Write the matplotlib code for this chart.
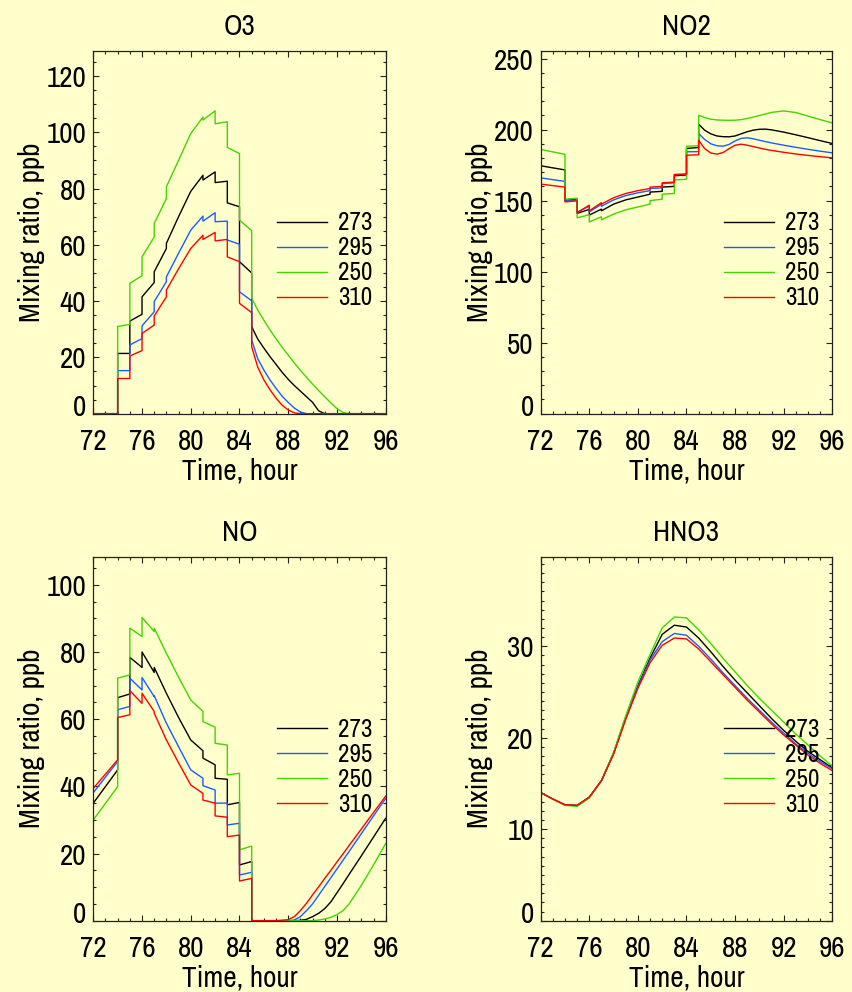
import matplotlib
matplotlib.use('agg')
import matplotlib.pyplot as plt
import matplotlib.transforms as mtransforms
from matplotlib.ticker import MultipleLocator

# legend labels and line colours (same order in every panel)
labels = ['273', '295', '250', '310']
colors = ['#000000', '#1a5cff', '#44d400', '#ff0000']

# ---- O3 ----
o3_time = [72, 74, 74, 75, 75, 76, 76, 77, 77, 78, 78, 79, 80, 81, 81, 82, 82, 83, 83, 84,
           84, 85, 85, 85.5, 86, 86.5, 87, 87.5, 88, 88.5, 89, 89.5, 90, 90.5, 91, 91.5, 92, 92.5, 93, 96]
o3_273 = [0, 0, 21.4, 21.4, 32.9, 35.3, 41.5, 46.6, 50.4, 58.7, 60.5, 70, 79, 84.7, 83, 85.9, 82.1, 82.6, 74.9, 73.5,
          54, 50, 30.9, 26.5, 23.3, 20.3, 17.5, 14.7, 12.2, 10, 8, 6, 4, 1, 0, 0, 0, 0, 0, 0]
o3_295 = [0, 0, 15.3, 15.3, 24.4, 26.7, 31.2, 36.2, 39.8, 46.9, 48.6, 57, 65.2, 70.2, 68.4, 71.4, 68.2, 68.4, 61.7, 60.2,
          43.3, 40.1, 26.2, 19.5, 15.5, 12, 9, 6.2, 4, 2, 0.6, 0, 0, 0, 0, 0, 0, 0, 0, 0]
o3_250 = [0, 0, 31, 31.7, 46.3, 49, 55.7, 62.8, 67.6, 76.4, 80.6, 90, 99.5, 105.4, 104.3, 107.6, 103, 103.7, 94.6, 92.4,
          68.8, 65, 41, 36.8, 33.2, 29.8, 26.6, 23.6, 20.8, 18, 15.4, 12.9, 10.5, 8.2, 6, 3.8, 1.8, 0.4, 0, 0]
o3_310 = [0, 0, 12.5, 12.5, 20.5, 22.4, 28.5, 31.5, 34.7, 41.5, 43.9, 51.5, 58.7, 63.4, 61.9, 64.4, 61.4, 61.9, 55.7, 54,
          39.2, 35.9, 23.8, 16.5, 12, 8.5, 5.5, 3, 1.3, 0.3, 0, 0, 0, 0, 0, 0, 0, 0, 0, 0]

# ---- NO2 ----
no2_time = [72, 74, 74, 75, 75, 76, 76, 77, 77, 78, 79, 80, 81, 81, 82, 82, 83, 83, 84, 84,
            85, 85, 85.5, 86, 86.5, 87, 87.5, 88, 88.5, 89, 89.5, 90, 90.5, 91, 92, 93, 94, 95, 96]
no2_273 = [174.5, 171.6, 150.2, 150.8, 141.0, 143.8, 139.8, 144.0, 142.8, 147.5, 150.5, 152.5, 154.5, 156.0, 156.5,
           159.5, 160, 167.5, 168, 186.7, 187.4, 203.8, 199.5, 197, 195.5, 195, 194.9, 195.5, 197, 198.5,
           199.6, 200.2, 200.3, 199.8, 198.2, 196.3, 194.3, 192.2, 190.2]
no2_295 = [166, 163.5, 149.8, 150.5, 141.9, 146.1, 142, 147.5, 146, 150.5, 153.5, 155.5, 157, 158.5, 159,
           162, 162.5, 168.2, 168.5, 184.3, 184.5, 197.2, 193, 190, 188.6, 188.3, 189.5, 192, 193.8, 194.2,
           193.5, 192.5, 191.5, 190.6, 189, 187.5, 186.1, 184.8, 183.6]
no2_250 = [186, 182.6, 151, 151.7, 137.9, 140, 135, 138.6, 136.5, 140.5, 143.5, 145.5, 147.5, 150, 151,
           154.5, 155, 164.5, 165, 188.3, 188.6, 210.1, 208.5, 207.3, 206.8, 206.6, 206.5, 206.6, 207, 207.8,
           208.8, 209.9, 211, 212.1, 213.1, 212, 209.5, 207, 204.7]
no2_310 = [161.6, 159.5, 149.1, 149.8, 141.4, 146.8, 142.8, 148.5, 147.5, 152, 155, 157, 158.5, 159.5, 160,
           162.5, 163, 168.4, 168.7, 182, 182.2, 192.5, 186.5, 183.5, 182.7, 183.8, 186.5, 189, 189.7, 189,
           188, 187, 186.1, 185.3, 184, 182.8, 181.8, 180.9, 180.1]

# ---- NO ----
no_time = [72, 74, 74, 75, 75, 76, 76, 77, 77, 78, 79, 80, 81, 81, 82, 82, 83, 83, 84, 84,
           85, 85, 86, 87, 88, 88.5, 89, 89.5, 90, 90.5, 91, 91.5, 92, 92.5, 93, 94, 95, 96]
no_273 = [35, 44.9, 66.4, 67.5, 78.4, 75.4, 80, 73.9, 75.4, 67.7, 60.5, 53.8, 50.6, 48.4, 46.4, 42.4, 42.1, 34.5, 35.2, 16.6,
          17.6, 0, 0, 0, 0, 0, 0.1, 0.4, 1.2, 2.2, 3.6, 5.6, 8.3, 11, 13.8, 19.3, 24.9, 30.5]
no_295 = [38.1, 47.4, 62.8, 63.8, 72.2, 68.7, 72.4, 66.7, 67, 58.8, 51.8, 44.9, 42.4, 40.2, 38.9, 35, 35, 28.5, 29, 13.6,
          14.4, 0, 0, 0, 0, 0.2, 1.2, 3, 5, 7.6, 10.2, 12.8, 15.4, 18, 20.6, 25.9, 31.2, 36.4]
no_250 = [30, 39.9, 72.2, 73.2, 87.1, 84.6, 90.3, 86.1, 87.1, 79.6, 72.5, 65.7, 62.3, 59.3, 57.6, 52.8, 52.3, 43.4, 43.9, 21.1,
          22.2, 0, 0, 0, 0, 0, 0, 0, 0, 0.2, 0.5, 1.0, 1.8, 3, 5, 10.5, 16.6, 23]
no_310 = [39.4, 47.9, 60.5, 61.3, 68.5, 64.7, 67.7, 62.3, 61.8, 53.8, 47, 40.4, 37.9, 35.9, 35, 31.2, 30.8, 25, 25.5, 11.8,
          12.6, 0, 0, 0, 0.3, 1.2, 3, 5.2, 7.7, 10.1, 12.6, 15, 17.5, 19.9, 22.4, 27.3, 32.2, 37.1]

# ---- HNO3 (hourly) ----
hno3_time = list(range(72, 97))
hno3_273 = [14.0, 13.3, 12.66, 12.6, 13.5, 15.3, 18.3, 22.2, 25.7, 28.7, 31.3, 32.3, 32.1, 30.9, 29.4, 27.8,
            26.3, 24.9, 23.5, 22.1, 20.8, 19.6, 18.5, 17.6, 16.7]
hno3_295 = [14.0, 13.3, 12.66, 12.6, 13.5, 15.3, 18.3, 22.2, 25.6, 28.5, 30.5, 31.4, 31.2, 30.0, 28.6, 27.1,
            25.7, 24.3, 23.0, 21.7, 20.5, 19.3, 18.3, 17.4, 16.6]
hno3_250 = [14.0, 13.3, 12.6, 12.5, 13.4, 15.3, 18.4, 22.4, 26.1, 29.1, 32.0, 33.2, 33.1, 31.8, 30.3, 28.7,
            27.2, 25.7, 24.3, 23.0, 21.7, 20.4, 19.2, 18.0, 16.9]
hno3_310 = [14.0, 13.3, 12.66, 12.6, 13.5, 15.3, 18.2, 22.0, 25.4, 28.2, 30.1, 30.9, 30.8, 29.7, 28.3, 26.9,
            25.5, 24.1, 22.8, 21.5, 20.3, 19.2, 18.1, 17.2, 16.4]

bg = '#ffffcc'
# narrow sans like the original; falls back to Liberation Sans if missing
plt.rcParams['font.family'] = ['Archivo Narrow', 'Liberation Sans Narrow', 'Liberation Sans', 'DejaVu Sans']

fig = plt.figure(figsize=(8.52, 9.92), dpi=100, facecolor=bg)


def make_panel(rect, title, time, series, ymax, major, minor):
    ax = fig.add_axes(rect, facecolor=bg)
    for vals, lab, col in zip(series, labels, colors):
        ax.plot(time, vals, color=col, lw=1.0, label=lab)
    ax.set_xlim(72, 96)
    ax.set_ylim(0, ymax)
    ax.set_xticks(range(72, 97, 4))
    ax.set_yticks(range(0, int(ymax) + 1, major))
    ax.xaxis.set_minor_locator(MultipleLocator(1))
    ax.yaxis.set_minor_locator(MultipleLocator(minor))
    ax.tick_params(which='both', direction='in', top=True, right=True, width=0.8, color='#222222')
    ax.tick_params(which='major', length=4.5, labelsize=21)
    ax.tick_params(which='minor', length=2.4)
    ax.tick_params(axis='x', pad=10)
    ax.tick_params(axis='y', pad=5)
    for sp in ax.spines.values():
        sp.set_color('#222222')
        sp.set_linewidth(0.9)
    ax.set_title(title, fontsize=21, pad=11)
    ax.set_xlabel('Time, hour', fontsize=21, labelpad=2)
    ax.set_ylabel('Mixing ratio, ppb', fontsize=21)
    ax.yaxis.set_label_coords(-0.165, 0.5)
    # the bottom "0" label sits a little above the axis, like the original
    offset = mtransforms.ScaledTranslation(0, 0.09, fig.dpi_scale_trans)
    zero = ax.yaxis.get_major_ticks()[0].label1
    zero.set_transform(zero.get_transform() + offset)
    ax.legend(loc='upper left', bbox_to_anchor=(0.627, 0.557), frameon=False, fontsize=18,
              handlelength=2.0, handletextpad=0.45, labelspacing=0.08, borderpad=0, borderaxespad=0)
    return ax


make_panel([0.1095, 0.583, 0.3432, 0.366], 'O3', o3_time, [o3_273, o3_295, o3_250, o3_310], 129, 20, 5)
make_panel([0.6346, 0.583, 0.3423, 0.366], 'NO2', no2_time, [no2_273, no2_295, no2_250, no2_310], 255.6, 50, 10)
make_panel([0.1095, 0.0719, 0.3432, 0.367], 'NO', no_time, [no_273, no_295, no_250, no_310], 108.4, 20, 5)
make_panel([0.6346, 0.0719, 0.3423, 0.367], 'HNO3', hno3_time, [hno3_273, hno3_295, hno3_250, hno3_310], 39.8, 10, 1)

plt.savefig('out.png', dpi=100, facecolor=bg)
